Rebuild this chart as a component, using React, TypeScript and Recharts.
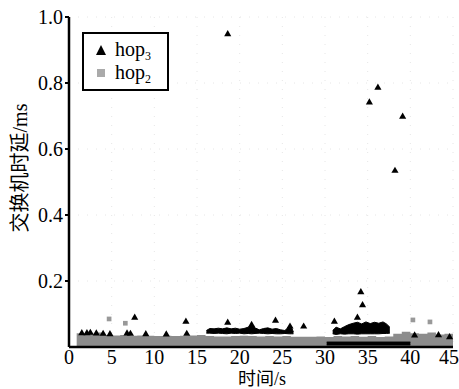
import React from "react";
import {
  Area,
  CartesianGrid,
  ComposedChart,
  Scatter,
  XAxis,
  YAxis,
  ZAxis,
} from "recharts";

// hop2: dense band top (s, ms)
const hop2BandT = [0.9, 2, 3, 4, 5, 6, 7, 8, 9, 10, 11, 12, 13, 14, 15, 16, 17, 18, 19, 20, 21, 22, 23, 24, 25, 26, 27, 28, 29, 30, 31, 32, 33, 34, 35, 36, 37, 38, 39, 40, 41, 42, 43, 44, 45];
const hop2BandTop = [0.042, 0.040, 0.044, 0.036, 0.035, 0.036, 0.034, 0.035, 0.034, 0.033, 0.034, 0.033, 0.034, 0.035, 0.036, 0.033, 0.032, 0.032, 0.033, 0.034, 0.033, 0.032, 0.033, 0.032, 0.033, 0.031, 0.031, 0.031, 0.032, 0.030, 0.033, 0.032, 0.033, 0.031, 0.033, 0.030, 0.032, 0.040, 0.046, 0.042, 0.040, 0.044, 0.038, 0.040, 0.036];

// hop3: first dense cluster (low / high)
const hop3AT = [16.1, 16.5, 17, 17.5, 18, 18.5, 19, 19.5, 20, 20.5, 21, 21.4, 21.8, 22.3, 22.8, 23.3, 23.8, 24.3, 24.8, 25.3, 25.8, 26.1, 26.3];
const hop3ALow = [0.042, 0.042, 0.041, 0.042, 0.041, 0.040, 0.042, 0.041, 0.042, 0.040, 0.041, 0.040, 0.041, 0.042, 0.041, 0.040, 0.041, 0.040, 0.040, 0.041, 0.040, 0.040, 0.040];
const hop3AHigh = [0.050, 0.056, 0.055, 0.057, 0.055, 0.058, 0.055, 0.057, 0.054, 0.056, 0.060, 0.066, 0.058, 0.052, 0.056, 0.058, 0.054, 0.056, 0.052, 0.050, 0.062, 0.058, 0.045];

// hop3: second dense cluster
const hop3BT = [30.9, 31.3, 31.8, 32.3, 32.8, 33.3, 33.8, 34.3, 34.8, 35.3, 35.8, 36.3, 36.8, 37.2, 37.6];
const hop3BLow = [0.040, 0.038, 0.040, 0.039, 0.040, 0.040, 0.039, 0.040, 0.040, 0.040, 0.040, 0.040, 0.041, 0.041, 0.042];
const hop3BHigh = [0.050, 0.060, 0.055, 0.062, 0.068, 0.072, 0.075, 0.070, 0.076, 0.071, 0.075, 0.072, 0.076, 0.070, 0.060];

// hop3: points lying near zero
const hop3LowT = [30.2, 40];
const hop3LowLo = [0.006, 0.006];
const hop3LowHi = [0.015, 0.015];

// hop3: sparse points
const hop3T = [18.6, 36.2, 35.2, 39.1, 38.2, 34.2, 34.4, 7.7, 13.7, 18.6, 24.2, 27.5, 31.1, 21.4, 25.9, 33.8, 44.6, 1.5, 2.1, 2.5, 3.2, 4.0, 4.8, 6.8, 7.2, 9.0, 11.4, 13.8, 40.5, 43.3];
const hop3V = [0.948, 0.786, 0.741, 0.698, 0.534, 0.166, 0.127, 0.089, 0.077, 0.074, 0.080, 0.062, 0.077, 0.067, 0.062, 0.089, 0.030, 0.042, 0.042, 0.043, 0.041, 0.040, 0.039, 0.041, 0.040, 0.039, 0.038, 0.040, 0.035, 0.036];

// hop2: sparse points
const hop2T = [4.7, 6.6, 40.3, 42.3];
const hop2V = [0.085, 0.072, 0.082, 0.076];

const xTicks = [0, 5, 10, 15, 20, 25, 30, 35, 40, 45];
const yTicks = [0.2, 0.4, 0.6, 0.8, 1.0];

const serif = "Liberation Serif";
const cjk = "Liberation Serif, Noto Sans CJK SC";

const rows: any[] = [];
hop2BandT.forEach((t, i) => rows.push({ t, hop2Band: hop2BandTop[i] }));
hop3AT.forEach((t, i) => rows.push({ t, hop3A: [hop3ALow[i], hop3AHigh[i]] }));
hop3BT.forEach((t, i) => rows.push({ t, hop3B: [hop3BLow[i], hop3BHigh[i]] }));
hop3LowT.forEach((t, i) => rows.push({ t, hop3Low: [hop3LowLo[i], hop3LowHi[i]] }));
rows.sort((a, b) => a.t - b.t);

const hop3Pts = hop3T.map((t, i) => ({ t, v: hop3V[i] }));
const hop2Pts = hop2T.map((t, i) => ({ t, v: hop2V[i] }));

function LegendBox() {
  const sub = { fontSize: 12, verticalAlign: "-4px", lineHeight: 0 };
  return (
    <div
      style={{
        position: "absolute",
        left: 82,
        top: 32,
        width: 87,
        height: 59,
        border: "2px solid #000",
        background: "#fff",
        fontFamily: serif,
        fontSize: 20,
        lineHeight: "23px",
        padding: "4px 0 0 11px",
        boxSizing: "border-box",
      }}
    >
      <div style={{ display: "flex", alignItems: "center" }}>
        <svg width={12} height={12} style={{ marginRight: 8 }}>
          <polygon points="6,1 11,11 1,11" fill="#000" />
        </svg>
        <span>
          hop<sub style={sub}>3</sub>
        </span>
      </div>
      <div style={{ display: "flex", alignItems: "center" }}>
        <svg width={12} height={12} style={{ marginRight: 8 }}>
          <rect x={2} y={2} width={8} height={8} fill="#aaa" />
        </svg>
        <span>
          hop<sub style={sub}>2</sub>
        </span>
      </div>
    </div>
  );
}

const tickStyle = { fill: "#000", fontSize: 20, fontFamily: serif };

export default function App() {
  return (
    <div style={{ position: "absolute", left: 0, top: 0, width: 459, height: 389, background: "#fff", fontFamily: serif }}>
      <ComposedChart
        width={459}
        height={389}
        data={rows}
        margin={{ top: 17, right: 6, left: 0, bottom: 0 }}
      >
        <CartesianGrid stroke="#e6e6e6" strokeDasharray="1 8" />
        <ZAxis range={[22, 22]} />
        <XAxis
          dataKey="t"
          type="number"
          domain={[0, 45]}
          ticks={xTicks}
          tickLine={false}
          axisLine={{ stroke: "#000", strokeWidth: 2.5 }}
          tick={tickStyle}
          tickMargin={-3}
          height={42}
          label={{
            content: () => (
              <text x={262} y={379} textAnchor="middle" dominantBaseline="central" fill="#000" fontSize={18} fontFamily={cjk}>
                时间/s
              </text>
            ),
          }}
        />
        <XAxis xAxisId="top" orientation="top" type="number" domain={[0, 45]} tick={false} tickLine={false} height={0} axisLine={{ stroke: "#000", strokeWidth: 2.5 }} />
        <YAxis
          type="number"
          domain={[0, 1]}
          ticks={yTicks}
          tickFormatter={(v: number) => v.toFixed(1)}
          tickLine={{ stroke: "#000", strokeWidth: 2 }}
          tickSize={4}
          axisLine={{ stroke: "#000", strokeWidth: 2.5 }}
          tick={tickStyle}
          width={69}
          label={{
            content: () => (
              <text
                x={20}
                y={168}
                transform="rotate(-90 20 168)"
                textAnchor="middle"
                dominantBaseline="central"
                fill="#000"
                fontSize={20}
                fontFamily={cjk}
              >
                交换机时延/ms
              </text>
            ),
          }}
        />
        <YAxis yAxisId="right" orientation="right" domain={[0, 1]} tick={false} tickLine={false} width={0} axisLine={{ stroke: "#000", strokeWidth: 2.5 }} />
        <Area dataKey="hop2Band" type="stepAfter" stroke="none" fill="#8c8c8c" fillOpacity={1} connectNulls baseValue={0} isAnimationActive={false} />
        <Area dataKey="hop3A" type="linear" stroke="#000" strokeWidth={1} fill="#000" fillOpacity={1} connectNulls isAnimationActive={false} />
        <Area dataKey="hop3B" type="linear" stroke="#000" strokeWidth={1} fill="#000" fillOpacity={1} connectNulls isAnimationActive={false} />
        <Area dataKey="hop3Low" type="linear" stroke="#000" fill="#000" fillOpacity={1} connectNulls isAnimationActive={false} />
        <Scatter name="hop2" data={hop2Pts} dataKey="v" fill="#999" shape="square" isAnimationActive={false} />
        <Scatter name="hop3" data={hop3Pts} dataKey="v" fill="#000" shape="triangle" isAnimationActive={false} />
      </ComposedChart>
      <LegendBox />
    </div>
  );
}
